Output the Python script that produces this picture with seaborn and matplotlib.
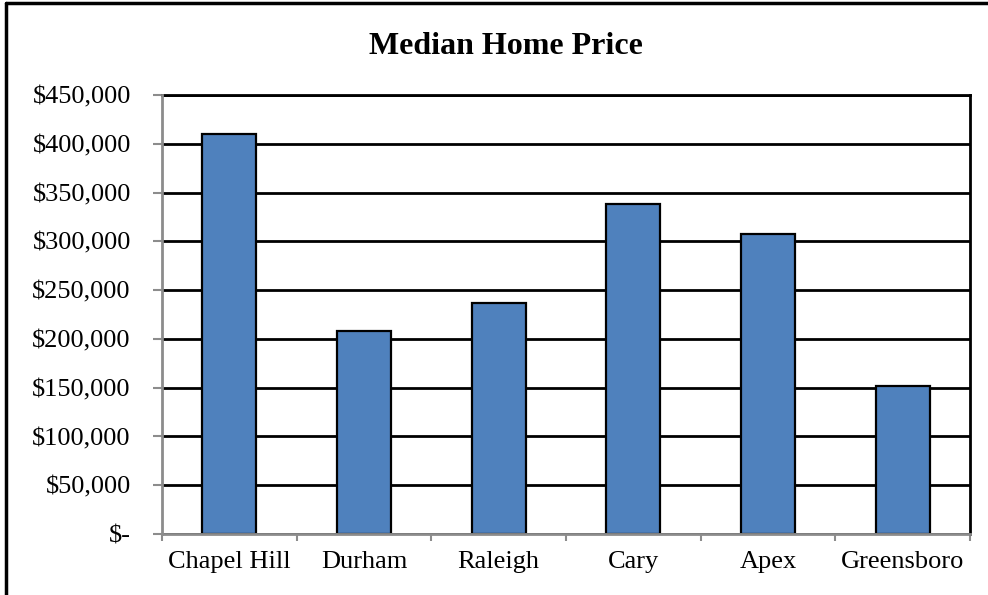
import matplotlib
matplotlib.use("Agg")
import matplotlib.pyplot as plt
import matplotlib.ticker as mticker
from matplotlib.lines import Line2D
import seaborn as sns
import pandas as pd

# ---- data ----
cities = ["Chapel Hill", "Durham", "Raleigh", "Cary", "Apex", "Greensboro"]
prices = [410000, 208000, 237000, 338000, 308000, 152000]
y_ticks = [0, 50000, 100000, 150000, 200000, 250000, 300000, 350000, 400000, 450000]
title = "Median Home Price"

df = pd.DataFrame({"city": cities, "price": prices})

sns.set_style("white")
plt.rcParams["font.family"] = ["Liberation Serif", "DejaVu Serif"]

fig = plt.figure(figsize=(9.88, 5.95), dpi=100)
W, H = 988, 595
ax = fig.add_axes([162 / W, (H - 534) / H, (970 - 162) / W, (534 - 95) / H])

sns.barplot(data=df, x="city", y="price", color="#4F81BD", width=0.4,
            edgecolor="black", linewidth=1.6, saturation=1, ax=ax, zorder=3)

ax.set_xlim(-0.5, len(cities) - 0.5)
ax.set_ylim(0, 450000)
ax.set_yticks(y_ticks)

def fmt(v, pos):
    if v == 0:
        return "$-"
    return "${:,.0f}".format(v)

ax.yaxis.set_major_formatter(mticker.FuncFormatter(fmt))
ax.set_xlabel("")
ax.set_ylabel("")

# grid
ax.yaxis.grid(True, color="black", linewidth=2, zorder=1)
ax.xaxis.grid(False)
ax.set_axisbelow(True)

gray = "#8C8C8C"
for s in ["left", "bottom"]:
    ax.spines[s].set_color(gray)
    ax.spines[s].set_linewidth(2)
    ax.spines[s].set_zorder(4)
ax.spines["right"].set_color("black")
ax.spines["right"].set_linewidth(2)
ax.spines["top"].set_color("black")
ax.spines["top"].set_linewidth(2)

ax.tick_params(axis="y", which="major", left=True, length=6.5, width=1.5,
               color=gray, pad=16, labelsize=19, labelcolor="black")
ax.tick_params(axis="x", which="major", bottom=True, length=0, pad=12,
               labelsize=19, labelcolor="black")
ax.set_xticks([i - 0.5 for i in range(len(cities) + 1)], minor=True)
ax.tick_params(axis="x", which="minor", bottom=True, length=5, width=1.5,
               color=gray, direction="out")

fig.text(506 / W, (H - 54) / H, title, ha="center", va="baseline",
         fontsize=23, fontweight="bold", color="black")

# outer chart frame (partially visible)
fig.add_artist(Line2D([6 / W, 6 / W], [0, (H - 3) / H], transform=fig.transFigure,
                      color="black", linewidth=2.5))
fig.add_artist(Line2D([6 / W, 1], [(H - 3) / H, (H - 3) / H], transform=fig.transFigure,
                      color="black", linewidth=2.5))

fig.savefig("out.png", dpi=100, facecolor="white")
